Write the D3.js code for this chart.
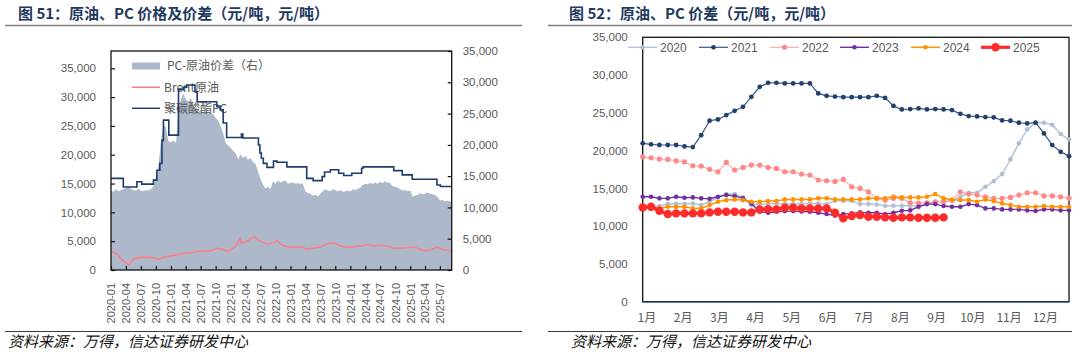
<!DOCTYPE html>
<html><head><meta charset="utf-8">
<script src="https://cdn.jsdelivr.net/npm/d3@7"></script>
<style>body{margin:0;background:#fff}svg{display:block}</style>
</head><body>
<svg id="c" width="1088" height="355"></svg>
<script>
// ---------- Left chart data (months since 2020-01) ----------
const pcMonth = [0,2.5,5.2,6.2,8.5,9.2,9.8,10.2,10.5,11.6,13.5,14.6,15.2,16.9,17.3,21.2,21.9,22.5,23.2,26.2,26.5,29.6,29.9,30.2,30.6,31.3,32.6,33.3,35.3,39.3,40.6,42.4,42.9,44.0,45.7,46.7,48.3,50.3,50.6,56.7,58.4,60.4,65.4,66.1];
const pcValue = [15900,14400,15300,14900,15600,17300,18500,22500,26000,23400,31300,31700,32100,30900,29200,28400,27800,25500,23000,23600,22900,21700,20300,19400,18500,17800,18900,18700,17900,15900,15500,16200,17000,17400,16800,16400,16800,17650,17900,17250,16500,15750,14750,14500];
const brentMonth = [0,0.8,1.5,1.9,2.5,3.15,3.6,4.2,4.8,5.8,7.2,8.5,9.8,10.5,11.85,13.2,14.5,15.9,17.2,18.5,19.9,21.2,22.5,23.2,23.9,24.9,25.9,26.2,27.2,28.2,28.9,29.6,30.2,31.3,32.6,33.3,34.3,35.3,36.7,38.0,39.3,40.6,42.0,43.3,44.7,46.0,47.3,48.7,50.0,51.4,52.7,54.0,55.4,56.7,58.0,59.4,60.4,61.4,62.7,64.1,65.4,66.8,68.4];
const brentValue = [3250,3000,2600,2030,1600,1160,900,1600,2030,2150,2200,2140,1920,2200,2430,2600,2900,3010,3180,3360,3300,3760,3590,3180,3470,4050,5500,4630,4920,5500,5780,5210,4920,4520,4750,5090,4340,4050,3930,4050,3640,3760,3930,4520,4750,4170,3930,4050,4170,4340,4170,4280,4170,3760,3760,3870,4050,3760,3360,3470,3930,3470,3300];
// PC-crude spread, half-monthly from 2020-01 (right axis)
const spreadValue = [
 12700,12500,12900,12600,12800,12900,13100,13300,13000,12800,12700,13000,12700,12600,12800,12700,12900,13300,15000,16500,20500,23300,22800,20600,
 20400,20700,20300,26200,27000,28200,27300,26900,27400,26700,25600,25300,25500,25100,25300,25000,25200,24800,24300,23900,22900,21800,20300,19900,
 19500,19000,18600,17600,18500,17900,18200,17600,17900,17300,17000,15800,14600,13700,13000,13300,12900,14200,13800,14300,14000,14200,14300,13800,
 13900,14000,13800,13900,13700,13900,12600,12300,12200,11900,12000,11800,12100,12600,12900,12700,12600,12900,12800,12600,12800,12500,12600,12700,
 12600,12900,12800,13000,13100,13600,13800,13700,13900,13800,14000,13800,14100,13900,14200,14000,13900,13400,13300,13200,12900,12700,12800,12600,
 12700,11700,11900,12000,12300,12100,12200,12400,12200,12100,12000,11700,11100,11200,11000,11100,10900,11000];
const leftTicks = [0,5000,10000,15000,20000,25000,30000,35000];
const rightTicks = [0,5000,10000,15000,20000,25000,30000,35000];
const leftLegend = ["PC-原油价差（右）","Brent原油","聚碳酸酯PC"];

// ---------- Right chart data (weekly, 52 points) ----------
const years = ["2020","2021","2022","2023","2024","2025"];
const monthLabels = ["1月","2月","3月","4月","5月","6月","7月","8月","9月","10月","11月","12月"];
const y2020 = [12500,12550,12660,12920,12970,12970,13000,12790,13230,13810,14250,14250,13810,12790,12900,12950,12970,12970,12920,12970,12970,13000,12920,13360,13360,13360,12920,12920,12870,12700,12700,12700,12700,12700,12920,13230,13230,13360,13890,14420,14420,15210,15970,16890,18840,20960,22810,23690,23690,23420,22190,21490];
const y2021 = [20960,20830,20740,20740,20740,20560,20470,22050,23950,24130,24700,25270,25800,27120,28440,28970,28970,28900,28900,28900,28900,27570,27250,27160,27070,27070,27070,27070,27250,26980,25920,25450,25500,25580,25450,25500,25450,25360,24870,24570,24530,24440,24400,24000,23950,23690,23600,23690,22280,20730,19840,19270];
const y2022 = [19180,19050,18880,18830,18650,18520,17990,17950,17520,17200,18440,17420,17780,18080,18080,17780,17640,17200,17200,16890,16760,16100,16010,15920,16190,15210,15000,14550,13680,13450,13680,13680,13100,13050,13100,13230,13280,13450,14550,14250,14120,13890,13680,13680,13810,14120,14420,14420,14000,14000,13890,13680];
const y2023 = [13890,13890,13680,13680,13890,13760,13810,13680,13630,13890,14120,14000,13680,13000,11910,11780,11910,11990,11990,11950,11910,11780,11600,11400,11600,11690,11820,11780,11780,11600,11780,12040,12090,12570,12920,12920,12660,12570,12570,12920,12790,12350,12350,12220,12220,12220,12090,12000,12220,12220,12090,12090];
const y2024 = [12500,12350,12350,12570,12570,12570,12350,12350,12790,13230,13450,13540,13450,13230,13230,13320,13320,13540,13540,13540,13540,13680,13680,13540,13540,13540,13540,13680,13680,13680,13890,13810,13810,13810,13890,14250,13680,13500,13450,13450,13230,13540,13320,13010,12790,12570,12570,12570,12660,12570,12570,12570];
const y2025 = [12480,12570,12040,11600,11690,11690,11690,11690,11820,11910,11910,11910,11820,11820,12220,12260,12220,12440,12440,12350,12350,12350,12350,11780,11030,11340,11470,11250,11250,11160,11120,11160,11160,11120,11120,11120,11160];

// ---------- helpers ----------
const svg = d3.select("#c");
const grey = "#595959";
const numFont = "'Liberation Sans', Arial, sans-serif";
const cjkFont = "'Noto Sans CJK SC', sans-serif";
const fmt = d3.format(",");
function toDate(m){
  const base = d3.timeMonth.offset(new Date(2020,0,1), Math.floor(m));
  return d3.timeDay.offset(base, Math.round((m - Math.floor(m))*30));
}

// ---------- titles / footers ----------
function panelFrame(x0, x1, title, tx, fx){
  svg.append("text").attr("x",tx).attr("y",19).text(title)
    .attr("font-family",cjkFont).attr("font-size",15).attr("font-weight","bold").attr("fill","#1f3a60");
  svg.append("line").attr("x1",x0).attr("x2",x1).attr("y1",25.5).attr("y2",25.5).attr("stroke","#808080").attr("stroke-width",1.5);
  svg.append("line").attr("x1",x0).attr("x2",x1).attr("y1",331.5).attr("y2",331.5).attr("stroke","#3a3a3a").attr("stroke-width",1);
  svg.append("text").attr("x",fx).attr("y",347).text("资料来源：万得，信达证券研发中心")
    .attr("font-family",cjkFont).attr("font-size",15).attr("font-style","italic").attr("fill","#111");
}
panelFrame(5, 522, "图 51：原油、PC 价格及价差（元/吨，元/吨）", 18, 8);
panelFrame(548, 1072, "图 52：原油、PC 价差（元/吨，元/吨）", 569, 571);

// ---------- LEFT CHART ----------
(function(){
  const X0=111, X1=451.7, Y0=270, Y1=51;
  const xEnd = new Date(2025,8,11);
  const x = d3.scaleTime().domain([toDate(0), xEnd]).range([X0, X1]);
  const yL = d3.scaleLinear().domain([0,38000]).range([Y0,Y1]);
  const yR = d3.scaleLinear().domain([0,35000]).range([Y0,Y1]);
  const g = svg.append("g");
  svg.append("clipPath").attr("id","clipL").append("rect").attr("x",X0).attr("y",Y1).attr("width",X1-X0).attr("height",Y0-Y1);

  const spread = spreadValue.map((v,i)=>({d:toDate(i*0.5), v}));
  g.append("path").datum(spread).attr("clip-path","url(#clipL)")
    .attr("fill","#adb9ca")
    .attr("d", d3.area().x(d=>x(d.d)).y0(yR(0)).y1(d=>yR(d.v)));

  // legend
  const lg = g.append("g").attr("font-family",cjkFont).attr("font-size",12).attr("fill",grey);
  lg.append("rect").attr("x",132).attr("y",62.5).attr("width",28).attr("height",7).attr("fill","#adb9ca");
  lg.append("text").attr("x",167).attr("y",66).attr("dy","0.35em").text(leftLegend[0]);
  lg.append("line").attr("x1",132).attr("x2",160).attr("y1",87.3).attr("y2",87.3).attr("stroke","#ff7c80").attr("stroke-width",1.5);
  lg.append("text").attr("x",164).attr("y",87.3).attr("dy","0.35em").text(leftLegend[1]);
  lg.append("line").attr("x1",132).attr("x2",160).attr("y1",108.3).attr("y2",108.3).attr("stroke","#1f3c6e").attr("stroke-width",1.5);
  lg.append("text").attr("x",164).attr("y",108.3).attr("dy","0.35em").text(leftLegend[2]);

  const brent = brentMonth.map((m,i)=>({d:toDate(m), v:brentValue[i]}));
  g.append("path").datum(brent).attr("clip-path","url(#clipL)").attr("fill","none")
    .attr("stroke","#ff7c80").attr("stroke-width",1.5)
    .attr("d", d3.line().x(d=>x(d.d)).y(d=>yL(d.v)));

  const pc = pcMonth.map((m,i)=>({d:toDate(m), v:pcValue[i]}));
  pc.push({d:xEnd, v:pc[pc.length-1].v});
  g.append("path").datum(pc).attr("clip-path","url(#clipL)").attr("fill","none")
    .attr("stroke","#1f3c6e").attr("stroke-width",1.6)
    .attr("d", d3.line().curve(d3.curveStepAfter).x(d=>x(d.d)).y(d=>yL(d.v)));

  // frame
  g.append("rect").attr("x",X0).attr("y",Y1).attr("width",X1-X0).attr("height",Y0-Y1)
    .attr("fill","none").attr("stroke","#111").attr("stroke-width",1.3);

  // axes
  const ax = g.append("g").attr("transform",`translate(${X0},0)`)
    .call(d3.axisLeft(yL).tickValues(leftTicks).tickFormat(fmt).tickSize(-4).tickPadding(15));
  const ax2 = g.append("g").attr("transform",`translate(${X1},0)`)
    .call(d3.axisRight(yR).tickValues(rightTicks).tickFormat(fmt).tickSize(-4).tickPadding(11));
  const qTicks = d3.timeMonth.every(3).range(toDate(0), xEnd);
  const ax3 = g.append("g").attr("transform",`translate(0,${Y0})`)
    .call(d3.axisBottom(x).tickValues(qTicks).tickFormat(d3.timeFormat("%Y-%m")).tickSize(-4));
  ax3.selectAll("text").attr("x",0).attr("y",0).attr("dy","0.35em")
    .attr("transform","translate(0,13) rotate(-90)").style("text-anchor","end");
  [ax,ax2,ax3].forEach(a=>{
    a.select(".domain").remove();
    a.selectAll("line").attr("stroke","#111").attr("stroke-width",1.2);
    a.selectAll("text").attr("fill",grey).attr("font-family",numFont).attr("font-size",11.5);
  });
  ax3.selectAll("text").attr("font-size",11);
})();

// ---------- RIGHT CHART ----------
(function(){
  const X0=642.7, X1=1069, Y0=301.7, Y1=37.3;
  const x = d3.scaleLinear().domain([0,51]).range([X0,X1]);
  const y = d3.scaleLinear().domain([0,35000]).range([Y0,Y1]);
  const g = svg.append("g");
  const series = [
    {name:years[0], data:y2020, line:"#b7c4d6", dot:"#b0bfd3", w:1.5, r:2.3},
    {name:years[1], data:y2021, line:"#3a5685", dot:"#22406e", w:1.2, r:2.4},
    {name:years[2], data:y2022, line:"#f9b3b3", dot:"#ff8787", w:1.3, r:2.6},
    {name:years[3], data:y2023, line:"#7030a0", dot:"#7030a0", w:1.4, r:2.3},
    {name:years[4], data:y2024, line:"#ff9000", dot:"#ff9000", w:1.5, r:2.3},
    {name:years[5], data:y2025, line:"#ff2b2b", dot:"#ff2b2b", w:3.2, r:4.2}
  ];
  // frame
  g.append("rect").attr("x",X0).attr("y",Y1).attr("width",X1-X0).attr("height",Y0-Y1)
    .attr("fill","none").attr("stroke","#111").attr("stroke-width",1.3);
  g.append("line").attr("x1",X0).attr("x2",X1).attr("y1",Y0).attr("y2",Y0).attr("stroke","#1f3864").attr("stroke-width",1.5);

  const line = d3.line().x((d,i)=>x(i)).y(d=>y(d));
  series.forEach(s=>{
    const sg = g.append("g");
    sg.append("path").datum(s.data).attr("fill","none").attr("stroke",s.line).attr("stroke-width",s.w).attr("d",line);
    sg.selectAll("circle").data(s.data).join("circle")
      .attr("cx",(d,i)=>x(i)).attr("cy",d=>y(d)).attr("r",s.r).attr("fill",s.dot);
  });

  // y axis
  const ay = g.append("g").attr("transform",`translate(${X0},0)`)
    .call(d3.axisLeft(y).tickValues(rightTicks).tickFormat(fmt).tickSize(0).tickPadding(15));
  ay.select(".domain").remove();
  ay.selectAll("text").attr("fill",grey).attr("font-family",numFont).attr("font-size",11.5);

  // month labels
  g.selectAll("text.mon").data(monthLabels).join("text").attr("class","mon")
    .attr("x",(d,i)=>x(i*52/12+0.5)).attr("y",322).attr("text-anchor","middle")
    .attr("font-family",cjkFont).attr("font-size",12).attr("fill",grey).text(d=>d);

  // legend
  const lx = [628,699,770,840,911,981];
  const lg = g.append("g");
  series.forEach((s,i)=>{
    const x0 = lx[i], yy = 47.3;
    lg.append("line").attr("x1",x0).attr("x2",x0+29).attr("y1",yy).attr("y2",yy).attr("stroke",s.line).attr("stroke-width",s.w);
    lg.append("circle").attr("cx",x0+14.5).attr("cy",yy).attr("r",s.r).attr("fill",s.dot);
    lg.append("text").attr("x",x0+32).attr("y",yy).attr("dy","0.36em").text(s.name)
      .attr("font-family",numFont).attr("font-size",12).attr("fill",grey);
  });
})();
</script>
</body></html>
